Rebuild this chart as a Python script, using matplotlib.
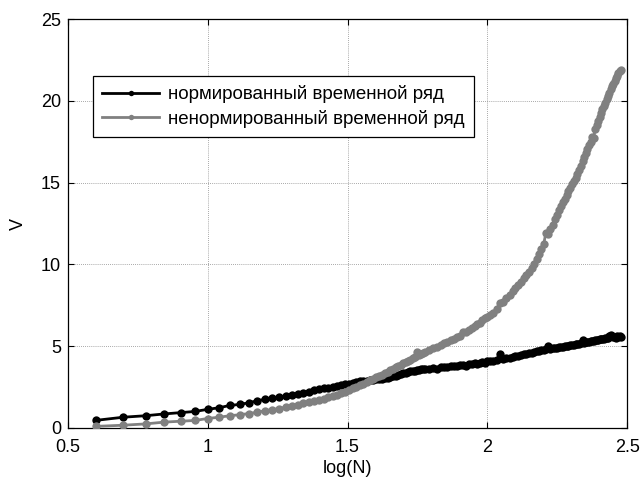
import numpy as np
import matplotlib
matplotlib.use("Agg")
import matplotlib.pyplot as plt

plt.rcParams['font.family'] = ['Liberation Sans', 'DejaVu Sans']

# window sizes N (x axis is log10(N))
N = list(range(4, 61)) + list(range(62, 101, 2)) + list(range(102, 301, 3))

# normalized series (black)
v_norm = [
    0.47, 0.66, 0.75, 0.86, 0.94, 1.01, 1.14, 1.24, 1.38, 1.44, 1.54, 1.66, 1.75, 1.81, 1.88, 1.95, 2.03,
    2.08, 2.15, 2.22, 2.30, 2.36, 2.42, 2.45, 2.52, 2.55, 2.62, 2.66, 2.70, 2.76, 2.80, 2.85, 2.88, 2.90, 2.93, 2.94, 2.97,
    3.00, 3.02, 3.06, 3.08, 3.12, 3.15, 3.20, 3.25, 3.30, 3.34, 3.38, 3.42, 3.46, 3.48, 3.50, 3.54, 3.55, 3.58, 3.60, 3.60,
    3.62, 3.66, 3.63, 3.70, 3.72, 3.70, 3.76, 3.80, 3.78, 3.84, 3.86, 3.82, 3.90, 3.92, 3.95, 3.93, 3.98, 4.02, 4.00, 4.07,
    4.10, 4.12, 4.15, 4.55, 4.22, 4.25, 4.30, 4.35, 4.40, 4.42, 4.48, 4.50, 4.55, 4.56, 4.60, 4.62, 4.68, 4.70, 4.74, 4.75,
    4.80, 5.00, 4.85, 4.88, 4.90, 4.92, 4.95, 4.96, 4.98, 5.00, 5.02, 5.04, 5.05, 5.07, 5.10, 5.12, 5.14, 5.16, 5.18, 5.40,
    5.22, 5.24, 5.26, 5.28, 5.30, 5.32, 5.34, 5.36, 5.39, 5.40, 5.42, 5.44, 5.45, 5.47, 5.48, 5.50, 5.52, 5.65, 5.70, 5.60,
    5.55, 5.58, 5.52, 5.60, 5.55, 5.62, 5.58,
]

# non-normalized series (gray)
v_raw = [
    0.10, 0.17, 0.25, 0.36, 0.41, 0.46, 0.58, 0.66, 0.75, 0.81, 0.88, 0.96, 1.05, 1.12, 1.19, 1.27, 1.35,
    1.42, 1.50, 1.57, 1.65, 1.72, 1.80, 1.88, 1.96, 2.04, 2.12, 2.22, 2.32, 2.42, 2.52, 2.62, 2.72, 2.82, 2.92, 3.00, 3.10,
    3.18, 3.27, 3.36, 3.45, 3.52, 3.62, 3.70, 3.78, 3.86, 3.95, 4.02, 4.10, 4.18, 4.26, 4.33, 4.62, 4.45, 4.50, 4.58, 4.62,
    4.75, 4.90, 4.98, 5.10, 5.18, 5.25, 5.35, 5.45, 5.55, 5.65, 5.85, 5.85, 6.00, 6.12, 6.25, 6.35, 6.45, 6.58, 6.70, 6.80,
    6.90, 7.05, 7.25, 7.65, 7.70, 7.95, 8.15, 8.35, 8.55, 8.75, 8.95, 9.15, 9.35, 9.55, 9.80, 10.05, 10.35, 10.65, 10.95, 11.25,
    11.95, 11.85, 12.15, 12.40, 12.75, 13.05, 13.30, 13.55, 13.80, 14.00, 14.25, 14.50, 14.70, 14.90, 15.10, 15.30, 15.55, 15.80, 16.05, 16.30,
    16.55, 16.80, 17.05, 17.30, 17.50, 17.80, 17.75, 18.30, 18.55, 18.80, 19.00, 19.25, 19.50, 19.70, 19.90, 20.10, 20.30, 20.50, 20.70, 20.90,
    21.05, 21.20, 21.40, 21.55, 21.70, 21.85, 21.90,
]

labels = ["нормированный временной ряд", "ненормированный временной ряд"]
xticks = [0.5, 1, 1.5, 2, 2.5]
yticks = [0, 5, 10, 15, 20, 25]

x = np.log10(np.array(N, dtype=float))

fig = plt.figure(figsize=(6.4, 4.79), dpi=100)
ax = fig.add_axes([0.106, 0.1065, 0.874, 0.8535])

ax.plot(x, v_norm, '-', marker='o', color='black', lw=2, ms=6, mew=0, label=labels[0], zorder=3)
ax.plot(x, v_raw, '-', marker='o', color=(0.5, 0.5, 0.5), lw=2, ms=6, mew=0, label=labels[1], zorder=3)

ax.set_xlim(0.5, 2.5)
ax.set_ylim(0, 25)
ax.set_xticks(xticks)
ax.set_xticklabels(['0.5', '1', '1.5', '2', '2.5'])
ax.set_yticks(yticks)
ax.grid(True, color=(0.55, 0.55, 0.55), linestyle=(0, (1, 1.5)), linewidth=0.6)
ax.tick_params(direction='in', top=True, right=True, length=4, labelsize=13, width=0.8)
ax.tick_params(axis='x', pad=8)
ax.tick_params(axis='y', pad=5)
for s in ax.spines.values():
    s.set_linewidth(0.9)

ax.set_xlabel('log(N)', fontsize=13, labelpad=3)
ax.set_ylabel('V', fontsize=13, labelpad=10)

leg = ax.legend(loc='lower left', bbox_to_anchor=(0.045, 0.711), fontsize=13.5,
                numpoints=1, handlelength=3.0, handletextpad=0.5, borderpad=0.5,
                labelspacing=0.35, fancybox=False, framealpha=1, edgecolor='black',
                borderaxespad=0, markerscale=0.65)
leg.get_frame().set_linewidth(0.9)

fig.savefig('out.png', dpi=100)
